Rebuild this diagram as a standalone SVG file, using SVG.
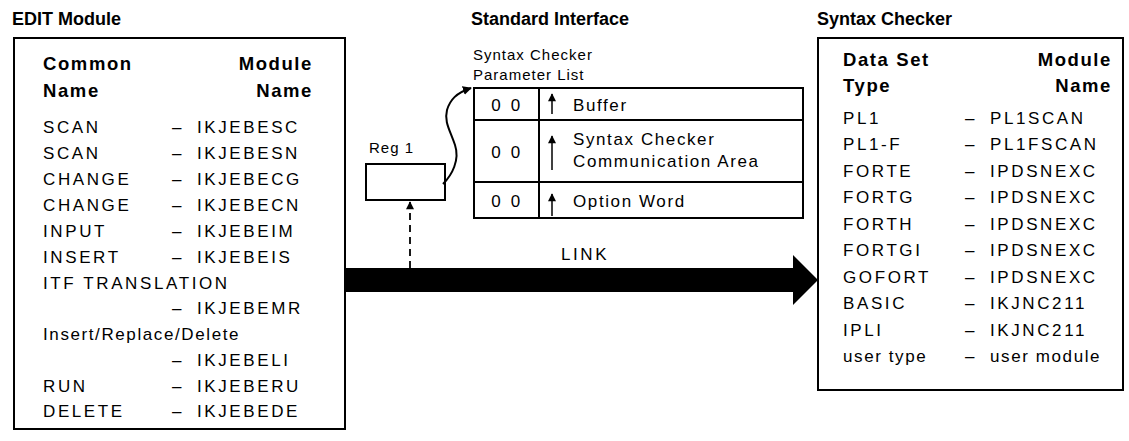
<svg xmlns="http://www.w3.org/2000/svg" width="1129" height="441" viewBox="0 0 1129 441">
<defs>
<style>
.t{font-family:"Liberation Sans",Arial,sans-serif;font-size:17px;fill:#000;letter-spacing:2.6px}
.lc{letter-spacing:1.6px}
.h{font-family:"Liberation Sans",Arial,sans-serif;font-size:18px;font-weight:bold;fill:#000}
.hd{font-family:"Liberation Sans",Arial,sans-serif;font-size:18.5px;font-weight:bold;fill:#000;letter-spacing:1.6px}
.b{fill:none;stroke:#000;stroke-width:2}
.s{font-family:"Liberation Sans",Arial,sans-serif;font-size:15px;fill:#000;letter-spacing:1px}
</style>
<marker id="ah" viewBox="0 0 10 10" refX="9" refY="5" markerWidth="9" markerHeight="9" orient="auto" markerUnits="userSpaceOnUse"><path d="M0,0 L10,5 L0,10 z" fill="#000"/></marker>
<marker id="up" viewBox="0 0 10 10" refX="9" refY="5" markerWidth="11" markerHeight="8" orient="auto" markerUnits="userSpaceOnUse"><path d="M0,0 L10,5 L0,10 z" fill="#000"/></marker>
</defs>
<rect width="1129" height="441" fill="#fff"/>

<g id="edit-module">
<text class="h" x="12" y="25">EDIT Module</text>
<rect class="b" x="14" y="38" width="331" height="391"/>
<text class="hd" x="43" y="70">Common</text>
<text class="hd" x="43" y="97">Name</text>
<text class="hd" x="313" y="70" text-anchor="end">Module</text>
<text class="hd" x="313" y="97" text-anchor="end">Name</text>
<g class="t">
<text x="43" y="133">SCAN</text><text x="172" y="133">–</text><text x="197" y="133">IKJEBESC</text>
<text x="43" y="159">SCAN</text><text x="172" y="159">–</text><text x="197" y="159">IKJEBESN</text>
<text x="43" y="185">CHANGE</text><text x="172" y="185">–</text><text x="197" y="185">IKJEBECG</text>
<text x="43" y="211">CHANGE</text><text x="172" y="211">–</text><text x="197" y="211">IKJEBECN</text>
<text x="43" y="237">INPUT</text><text x="172" y="237">–</text><text x="197" y="237">IKJEBEIM</text>
<text x="43" y="263">INSERT</text><text x="172" y="263">–</text><text x="197" y="263">IKJEBEIS</text>
<text x="43" y="289">ITF TRANSLATION</text>
<text x="172" y="314">–</text><text x="197" y="314">IKJEBEMR</text>
<text x="43" y="340" class="lc">Insert/Replace/Delete</text>
<text x="172" y="366">–</text><text x="197" y="366">IKJEBELI</text>
<text x="43" y="392">RUN</text><text x="172" y="392">–</text><text x="197" y="392">IKJEBERU</text>
<text x="43" y="417">DELETE</text><text x="172" y="417">–</text><text x="197" y="417">IKJEBEDE</text>
</g>
</g>

<g id="standard-interface">
<text class="h" x="471" y="25">Standard Interface</text>
</g>

<g id="reg1">
<text class="s" x="369" y="153">Reg 1</text>
<rect class="b" x="366" y="164" width="79" height="36"/>
</g>

<g id="param-list">
<text class="s" x="473" y="60">Syntax Checker</text>
<text class="s" x="473" y="80">Parameter List</text>
<rect class="b" x="474" y="88" width="329" height="130"/>
<line class="b" x1="474" y1="120" x2="803" y2="120"/>
<line class="b" x1="474" y1="182" x2="803" y2="182"/>
<line class="b" x1="539" y1="88" x2="539" y2="218"/>
<g class="t">
<text x="507" y="111" text-anchor="middle">0 0</text>
<text x="507" y="158" text-anchor="middle">0 0</text>
<text x="507" y="207" text-anchor="middle">0 0</text>
<text x="573" y="111" class="lc">Buffer</text>
<text x="573" y="145" class="lc">Syntax Checker</text>
<text x="573" y="167" class="lc">Communication Area</text>
<text x="573" y="207" class="lc">Option Word</text>
</g>
<line stroke="#000" stroke-width="1.5" x1="552" y1="114" x2="552" y2="94" marker-end="url(#up)"/>
<line stroke="#000" stroke-width="1.5" x1="552" y1="170" x2="552" y2="136" marker-end="url(#up)"/>
<line stroke="#000" stroke-width="1.5" x1="552" y1="216" x2="552" y2="194" marker-end="url(#up)"/>
</g>

<g id="syntax-checker">
<text class="h" x="817" y="25">Syntax Checker</text>
<rect class="b" x="818" y="38" width="305" height="352"/>
<text class="hd" x="843" y="66">Data Set</text>
<text class="hd" x="843" y="92">Type</text>
<text class="hd" x="1112" y="66" text-anchor="end">Module</text>
<text class="hd" x="1112" y="92" text-anchor="end">Name</text>
<g class="t">
<text x="843" y="124">PL1</text><text x="965" y="124">–</text><text x="990" y="124">PL1SCAN</text>
<text x="843" y="150">PL1-F</text><text x="965" y="150">–</text><text x="990" y="150">PL1FSCAN</text>
<text x="843" y="177">FORTE</text><text x="965" y="177">–</text><text x="990" y="177">IPDSNEXC</text>
<text x="843" y="203">FORTG</text><text x="965" y="203">–</text><text x="990" y="203">IPDSNEXC</text>
<text x="843" y="230">FORTH</text><text x="965" y="230">–</text><text x="990" y="230">IPDSNEXC</text>
<text x="843" y="256">FORTGI</text><text x="965" y="256">–</text><text x="990" y="256">IPDSNEXC</text>
<text x="843" y="283">GOFORT</text><text x="965" y="283">–</text><text x="990" y="283">IPDSNEXC</text>
<text x="843" y="309">BASIC</text><text x="965" y="309">–</text><text x="990" y="309">IKJNC211</text>
<text x="843" y="336">IPLI</text><text x="965" y="336">–</text><text x="990" y="336">IKJNC211</text>
<text x="843" y="362" class="lc">user type</text><text x="965" y="362">–</text><text x="990" y="362" class="lc">user module</text>
</g>
</g>

<g id="connectors">
<path d="M345,268 H793 V255 L818,280 L793,305 V292 H345 z" fill="#000"/>
<text class="t" x="585" y="260" text-anchor="middle">LINK</text>
<line stroke="#000" stroke-width="1.8" stroke-dasharray="7,5" x1="410" y1="268" x2="410" y2="202" marker-end="url(#up)"/>
<path class="b" stroke-width="1.8" d="M443,184 C452,175 460,160 455,145 C450,130 444,122 447,110 C450,100 456,93 471,88" marker-end="url(#ah)"/>
</g>
</svg>
